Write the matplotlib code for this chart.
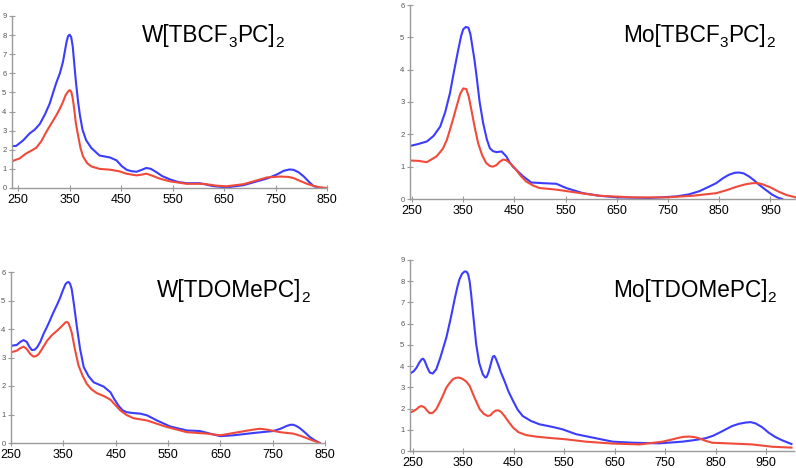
import matplotlib
matplotlib.use("Agg")
import matplotlib.pyplot as plt

plt.rcParams['font.family'] = ['Liberation Sans', 'DejaVu Sans']

BLUE = '#3c3cff'
RED = '#f04a3a'
GREY = '#9a9a9a'

# ---- Panel 1: W[TBCF3PC]2 ----
w1_x_blue = [238, 246, 260, 272, 282, 292, 302, 311, 318, 324, 331, 337, 341, 344, 347, 350, 353, 356,
             359, 362, 366, 370, 375, 382, 392, 408, 428, 441, 451, 461, 470, 480, 490, 499, 508, 519,
             530, 545, 560, 577, 603, 629, 655, 688, 734, 752, 766, 777, 785, 795, 805, 815, 824, 834, 844, 850]
w1_y_blue = [2.2, 2.2, 2.5, 2.85, 3.05, 3.35, 3.85, 4.4, 5.0, 5.5, 6.0, 6.6, 7.2, 7.65, 7.95, 8.02, 7.9, 7.4,
             6.5, 5.6, 4.6, 3.8, 3.05, 2.5, 2.1, 1.7, 1.6, 1.45, 1.15, 0.95, 0.88, 0.85, 0.95, 1.05, 1.0, 0.82,
             0.62, 0.45, 0.32, 0.25, 0.25, 0.1, 0.03, 0.15, 0.5, 0.7, 0.9, 0.97, 0.95, 0.82, 0.6, 0.32, 0.1, 0.02, 0.0, 0.0]
w1_x_red = [238, 253, 265, 272, 285, 295, 305, 315, 324, 331, 337, 342, 347, 350, 353, 356, 359, 362,
            366, 371, 376, 384, 392, 408, 428, 447, 460, 480, 490, 499, 510, 525, 545, 577, 610, 636, 655,
            688, 733, 759, 775, 785, 797, 811, 825, 837, 850]
w1_y_red = [1.4, 1.55, 1.8, 1.9, 2.1, 2.45, 2.95, 3.4, 3.8, 4.15, 4.5, 4.85, 5.05, 5.12, 5.05, 4.7, 4.1, 3.4,
            2.8, 2.1, 1.65, 1.3, 1.13, 1.0, 0.96, 0.87, 0.75, 0.66, 0.7, 0.75, 0.65, 0.49, 0.35, 0.22, 0.22, 0.12,
            0.09, 0.2, 0.55, 0.6, 0.58, 0.52, 0.38, 0.22, 0.1, 0.03, 0.0]

# ---- Panel 2: Mo[TBCF3PC]2 ----
m1_x_blue = [246, 262, 279, 292, 305, 315, 324, 332, 340, 346, 350, 355, 360, 364, 368, 372, 376, 382, 389,
             396, 402, 408, 415, 425, 434, 440, 447, 457, 467, 483, 506, 532, 551, 584, 616, 652, 714, 766,
             790, 811, 830, 844, 858, 869, 880, 889, 898, 908, 918, 928, 941, 954, 965, 973]
m1_y_blue = [1.64, 1.7, 1.78, 1.95, 2.24, 2.7, 3.27, 3.95, 4.6, 5.05, 5.25, 5.32, 5.3, 5.1, 4.7, 4.3, 3.8,
             3.0, 2.34, 1.85, 1.57, 1.48, 1.45, 1.47, 1.32, 1.15, 1.0, 0.85, 0.7, 0.51, 0.49, 0.47, 0.34, 0.18,
             0.1, 0.05, 0.03, 0.08, 0.14, 0.24, 0.38, 0.49, 0.65, 0.75, 0.81, 0.82, 0.79, 0.7, 0.58, 0.44, 0.28,
             0.13, 0.04, 0.0]
m1_x_red = [246, 262, 279, 298, 310, 318, 328, 337, 344, 350, 356, 361, 366, 372, 379, 387, 395, 402, 408,
            415, 421, 428, 434, 442, 451, 462, 473, 486, 499, 532, 571, 616, 681, 746, 798, 844, 866, 882,
            900, 915, 925, 934, 950, 967, 982, 1000]
m1_y_red = [1.19, 1.18, 1.14, 1.32, 1.55, 1.83, 2.35, 2.86, 3.25, 3.42, 3.4, 3.15, 2.75, 2.25, 1.73, 1.35,
            1.11, 1.02, 1.0, 1.05, 1.15, 1.22, 1.2, 1.1, 0.95, 0.72, 0.54, 0.42, 0.34, 0.29, 0.2, 0.1, 0.05,
            0.05, 0.1, 0.18, 0.28, 0.37, 0.45, 0.49, 0.49, 0.46, 0.36, 0.22, 0.12, 0.05]

# ---- Panel 3: W[TDOMePC]2 ----
w2_x_blue = [250, 261, 268, 274, 280, 285, 290, 295, 300, 306, 312, 322, 331, 338, 344, 349, 354, 357, 360,
             363, 366, 370, 376, 382, 389, 398, 408, 418, 427, 440, 447, 455, 463, 471, 484, 497, 510, 529,
             554, 586, 611, 630, 650, 675, 713, 751, 765, 777, 784, 789, 795, 802, 811, 821, 830, 840]
w2_y_blue = [3.41, 3.44, 3.55, 3.61, 3.55, 3.38, 3.26, 3.27, 3.36, 3.55, 3.82, 4.2, 4.58, 4.85, 5.1, 5.35,
             5.57, 5.63, 5.65, 5.58, 5.4, 4.9, 4.06, 3.3, 2.66, 2.35, 2.13, 2.05, 1.98, 1.78, 1.55, 1.32, 1.15,
             1.08, 1.05, 1.03, 0.97, 0.79, 0.58, 0.44, 0.42, 0.33, 0.24, 0.27, 0.35, 0.42, 0.5, 0.6, 0.64, 0.64,
             0.6, 0.52, 0.38, 0.21, 0.1, 0.0]
w2_x_red = [250, 261, 268, 274, 280, 287, 293, 298, 303, 310, 319, 328, 338, 346, 354, 357, 360, 363, 366,
            372, 379, 387, 395, 404, 414, 427, 440, 450, 459, 471, 484, 510, 548, 586, 624, 650, 675, 713,
            726, 739, 764, 789, 802, 815, 828, 840]
w2_y_red = [3.18, 3.24, 3.33, 3.38, 3.3, 3.12, 3.03, 3.05, 3.12, 3.32, 3.59, 3.78, 3.94, 4.08, 4.23, 4.25,
            4.2, 4.05, 3.88, 3.3, 2.72, 2.35, 2.07, 1.88, 1.75, 1.65, 1.52, 1.32, 1.14, 0.98, 0.87, 0.79, 0.56,
            0.38, 0.33, 0.27, 0.35, 0.47, 0.5, 0.47, 0.38, 0.33, 0.26, 0.17, 0.08, 0.0]

# ---- Panel 4: Mo[TDOMePC]2 ----
m2_x_blue = [245, 252, 258, 263, 268, 271, 274, 279, 284, 290, 297, 305, 317, 326, 334, 339, 343, 348, 353,
             357, 360, 363, 366, 371, 376, 382, 389, 394, 397, 401, 406, 409, 412, 415, 419, 425, 432, 440,
             449, 458, 468, 484, 501, 528, 547, 574, 607, 646, 686, 738, 784, 810, 830, 845, 857, 870, 883,
             896, 909, 919, 929, 942, 955, 968, 982, 1000]
m2_y_blue = [3.65, 3.75, 3.93, 4.15, 4.32, 4.35, 4.25, 3.95, 3.7, 3.65, 3.85, 4.4, 5.35, 6.3, 7.23, 7.75,
             8.1, 8.35, 8.46, 8.45, 8.33, 8.0, 7.39, 6.2, 5.03, 4.15, 3.62, 3.46, 3.5, 3.75, 4.2, 4.45, 4.48,
             4.35, 4.1, 3.7, 3.3, 2.8, 2.36, 1.95, 1.65, 1.42, 1.26, 1.13, 1.02, 0.79, 0.63, 0.44, 0.39, 0.36,
             0.44, 0.52, 0.6, 0.72, 0.86, 1.02, 1.18, 1.28, 1.34, 1.36, 1.3, 1.12, 0.86, 0.66, 0.5, 0.33]
m2_x_red = [245, 252, 258, 263, 268, 274, 279, 284, 290, 297, 307, 317, 324, 330, 335, 340, 345, 350, 356,
            363, 372, 383, 391, 399, 404, 409, 414, 419, 425, 432, 440, 449, 460, 475, 494, 514, 554, 593,
            646, 699, 745, 765, 778, 788, 797, 807, 817, 830, 843, 883, 922, 962, 1000]
m2_y_red = [1.81, 1.88, 1.97, 2.08, 2.12, 2.05, 1.9, 1.78, 1.8, 1.97, 2.45, 2.99, 3.22, 3.38, 3.44, 3.46,
            3.44, 3.38, 3.28, 3.07, 2.55, 1.97, 1.75, 1.65, 1.68, 1.81, 1.9, 1.92, 1.85, 1.65, 1.38, 1.1, 0.88,
            0.75, 0.68, 0.63, 0.55, 0.44, 0.35, 0.31, 0.44, 0.55, 0.63, 0.67, 0.68, 0.66, 0.6, 0.48, 0.39, 0.35,
            0.31, 0.2, 0.16]

# title pieces: (text, is_subscript)
titles = [
    [('W[TBCF', False), ('3', True), ('PC]', False), ('2', True)],
    [('Mo[TBCF', False), ('3', True), ('PC]', False), ('2', True)],
    [('W[TDOMePC]', False), ('2', True)],
    [('Mo[TDOMePC]', False), ('2', True)],
]
xticks_short = [250, 350, 450, 550, 650, 750, 850]
xticks_long = [250, 350, 450, 550, 650, 750, 850, 950]

W, H = 796, 468
fig = plt.figure(figsize=(W / 100, H / 100), dpi=100)
renderer = fig.canvas.get_renderer()


def add_axes(left, right, top, bottom):
    return fig.add_axes([left / W, (H - bottom) / H, (right - left) / W, (bottom - top) / H])


def draw_title(pieces, x_px, base_px, size=16.3):
    x = x_px
    for txt, sub in pieces:
        fs = size * 0.68 if sub else size
        y = base_px + (size * 0.28 if sub else 0)
        t = fig.text(x / W, (H - y) / H, txt, fontsize=fs, ha='left', va='baseline', color='black')
        bb = t.get_window_extent(renderer)
        x += bb.width


panels = [
    dict(box=(12, 327, 16, 188), xlim=(238, 850), ylim=(0, 9), yt=range(0, 10), xt=xticks_short,
         xb=w1_x_blue, yb=w1_y_blue, xr=w1_x_red, yr=w1_y_red, title=titles[0], tpos=(142, 42)),
    dict(box=(410, 796, 5, 199), xlim=(246, 1000), ylim=(0, 6), yt=range(0, 7), xt=xticks_long,
         xb=m1_x_blue, yb=m1_y_blue, xr=m1_x_red, yr=m1_y_red, title=titles[1], tpos=(623, 42)),
    dict(box=(11, 325, 272, 443), xlim=(250, 850), ylim=(0, 6), yt=range(0, 7), xt=xticks_short,
         xb=w2_x_blue, yb=w2_y_blue, xr=w2_x_red, yr=w2_y_red, title=titles[2], tpos=(157, 297)),
    dict(box=(410, 794, 260, 451), xlim=(245, 1005), ylim=(0, 9), yt=range(0, 10), xt=xticks_long,
         xb=m2_x_blue, yb=m2_y_blue, xr=m2_x_red, yr=m2_y_red, title=titles[3], tpos=(613, 297)),
]

for p in panels:
    ax = add_axes(*p['box'])
    ax.plot(p['xb'], p['yb'], color=BLUE, lw=1.5, solid_joinstyle='round')
    ax.plot(p['xr'], p['yr'], color=RED, lw=1.5, solid_joinstyle='round')
    ax.set_xlim(*p['xlim'])
    ax.set_ylim(*p['ylim'])
    ax.set_xticks(p['xt'])
    ax.set_yticks(list(p['yt']))
    for s in ('top', 'right'):
        ax.spines[s].set_visible(False)
    for s in ('left', 'bottom'):
        ax.spines[s].set_color(GREY)
        ax.spines[s].set_linewidth(1.0)
    ax.tick_params(axis='y', direction='inout', length=5, width=0.8, color=GREY,
                   labelsize=5.5, labelcolor='#555555', pad=1.5)
    ax.tick_params(axis='x', direction='inout', length=4, width=0.8, color=GREY,
                   labelsize=9, labelcolor='black', pad=2)
    ax.patch.set_alpha(0)
    draw_title(p['title'], *p['tpos'])

fig.savefig('out.png', dpi=100)
